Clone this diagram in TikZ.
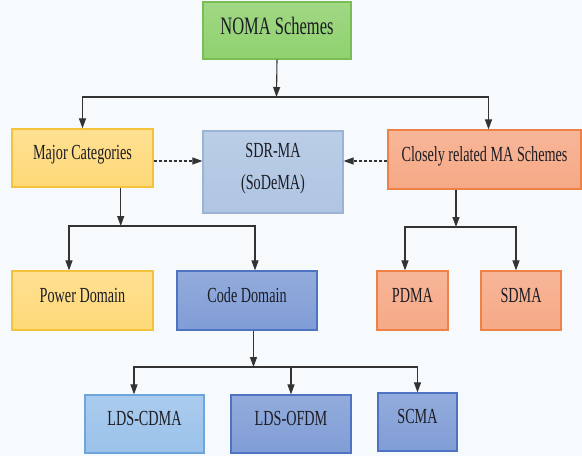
\documentclass[tikz,border=0pt]{standalone}
\usepackage{fontspec}
\setmainfont{Liberation Serif}[FakeStretch=0.66]
\usepackage{tikz}
\usepackage{xcolor}
\usetikzlibrary{arrows.meta,shapes}

\definecolor{bgcol}{HTML}{F7FAFC}
\definecolor{greenfill}{HTML}{90D16F}
\definecolor{greenline}{HTML}{78BD55}
\definecolor{yellowfill}{HTML}{FFD978}
\definecolor{yellowline}{HTML}{F5C23C}
\definecolor{greyblue}{HTML}{AFC5E2}
\definecolor{greyblueline}{HTML}{9CB3D6}
\definecolor{salmon}{HTML}{F6A986}
\definecolor{salmonline}{HTML}{EE8246}
\definecolor{midblue}{HTML}{809DD6}
\definecolor{midblueline}{HTML}{4E73C2}
\definecolor{skyblue}{HTML}{9BC2EA}
\definecolor{skyblueline}{HTML}{6EA5DC}
\definecolor{txt}{HTML}{1C1C24}

\tikzset{
  box/.style={rectangle, draw, line width=1.2pt, inner sep=0pt, text=txt,
    font=\fontsize{21.5}{24}\selectfont, text height=15pt, text depth=12pt},
  twoline/.style={rectangle, draw, line width=1.2pt, inner sep=0pt, text=txt,
    align=center, font=\fontsize{21.5}{32}\selectfont, text depth=12pt},
  greenbox/.style={top color=greenfill!85!white, bottom color=greenfill, draw=greenline},
  yellowbox/.style={top color=yellowfill!80!white, bottom color=yellowfill, draw=yellowline},
  paleblue/.style={top color=greyblue!85!white, bottom color=greyblue, draw=greyblueline},
  salmonbox/.style={top color=salmon!85!white, bottom color=salmon, draw=salmonline},
  bluebox/.style={top color=midblue!85!white, bottom color=midblue, draw=midblueline},
  skybox/.style={top color=skyblue!85!white, bottom color=skyblue, draw=skyblueline},
  arr/.style={draw=black!80, line width=1.1pt, -{Triangle[length=10pt,width=7pt]}},
  dasharr/.style={arr, dash pattern=on 3pt off 2pt}
}

\begin{document}
\begin{tikzpicture}[x=1pt,y=-1pt]
\useasboundingbox (0,0) rectangle (582,456);
\fill[bgcol] (0,0) rectangle (582,456);

% top
\node[box, greenbox, minimum width=148, minimum height=57, font=\fontsize{25}{28}\selectfont,
  text height=17pt, text depth=9.5pt] (noma) at (277,30.5) {NOMA Schemes};

% second row
\node[box, yellowbox, minimum width=141, minimum height=58] (major) at (82.5,158) {Major Categories};
\node[twoline, paleblue, minimum width=140, minimum height=82] (sdr) at (273,172) {SDR-MA\\(SoDeMA)};
\node[box, salmonbox, minimum width=193, minimum height=59] (close) at (484.5,159.5) {Closely related MA Schemes};

% third row
\node[box, yellowbox, minimum width=141, minimum height=59] (power) at (82.5,300.5) {Power Domain};
\node[box, bluebox, minimum width=140, minimum height=59] (code) at (247,300.5) {Code Domain};
\node[box, salmonbox, minimum width=71, minimum height=59] (pdma) at (412.5,300.5) {PDMA};
\node[box, salmonbox, minimum width=80, minimum height=59] (sdma) at (521,300.5) {SDMA};

% bottom row
\node[box, skybox, minimum width=119, minimum height=58] (ldsc) at (144.5,424) {LDS-CDMA};
\node[box, bluebox, minimum width=120, minimum height=58] (ldso) at (291,424) {LDS-OFDM};
\node[box, bluebox, minimum width=79, minimum height=58] (scma) at (417.5,422) {SCMA};

% branch points
\coordinate (b0) at (276.5,97);
\coordinate (b1) at (120.7,226);
\coordinate (b2) at (456,227);
\coordinate (b3) at (253.5,367);

\draw[arr] (noma.south) -- (b0);
\draw[arr] (b0) -| (major.north);
\draw[arr] (b0) -| ([xshift=4]close.north);

\draw[arr] (b1 |- major.south) -- (b1);
\draw[arr] (b1) -| ([xshift=-13.5]power.north);
\draw[arr] (b1) -| ([xshift=8]code.north);

\draw[arr] (b2 |- close.south) -- (b2);
\draw[arr] (b2) -| ([xshift=-7.5]pdma.north);
\draw[arr] (b2) -| ([xshift=-5]sdma.north);

\draw[arr] (b3 |- code.south) -- (b3);
\draw[arr] (b3) -| ([xshift=-10.5]ldsc.north);
\draw[arr] (b3) -| (ldso.north);
\draw[arr] (b3) -| (scma.north);

% dashed links
\draw[dasharr] ([yshift=-3]major.east) coordinate (d1) -- (sdr.west |- d1);
\draw[dasharr] ([yshift=-1.5]close.west) coordinate (d2) -- (sdr.east |- d2);
\end{tikzpicture}
\end{document}
